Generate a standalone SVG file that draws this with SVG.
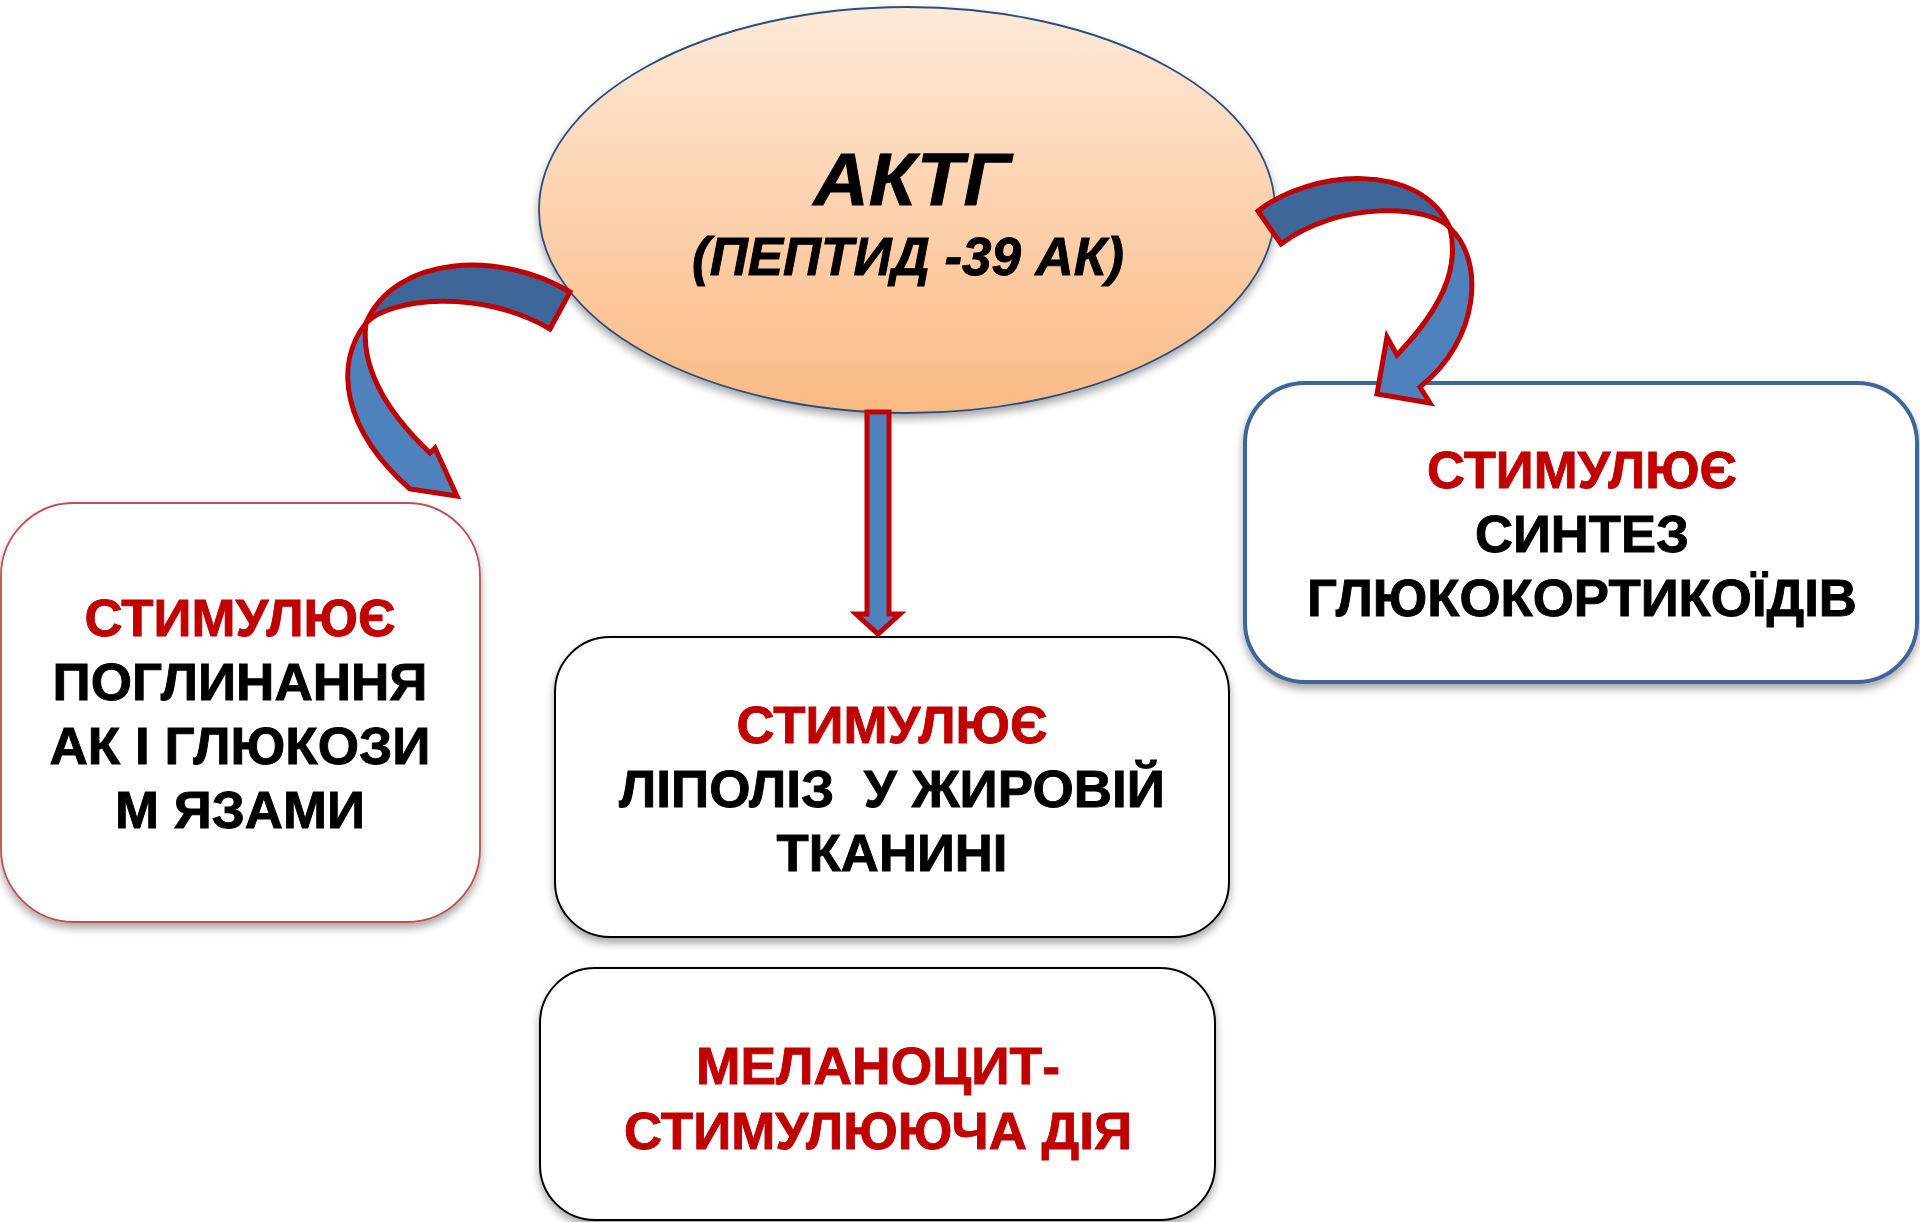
<svg xmlns="http://www.w3.org/2000/svg" width="1920" height="1222" viewBox="0 0 1920 1222">
  <defs>
    <linearGradient id="peach" x1="0" y1="0" x2="0" y2="1">
      <stop offset="0" stop-color="#fde9d8"/>
      <stop offset="1" stop-color="#fbba84"/>
    </linearGradient>
    <filter id="shadow" x="-10%" y="-10%" width="120%" height="125%">
      <feGaussianBlur in="SourceAlpha" stdDeviation="4"/>
      <feOffset dx="0" dy="5" result="b"/>
      <feFlood flood-color="#000" flood-opacity="0.35"/>
      <feComposite in2="b" operator="in"/>
      <feMerge>
        <feMergeNode/>
        <feMergeNode in="SourceGraphic"/>
      </feMerge>
    </filter>
  </defs>
  <style>
    text { font-family: "Liberation Sans", Arial, sans-serif; font-weight: bold; text-anchor: middle; stroke-width: 0.9; }
    .lbl { font-size: 52px; fill: #000; stroke: #000; }
    .red { fill: #c00000; stroke: #c00000; }
    .box { fill: #fff; filter: url(#shadow); }
    .arrow { stroke: #c00000; stroke-width: 5; stroke-linejoin: miter; }
    .front { fill: #4f81bd; }
    .back { fill: #3f6698; }
  </style>

  <rect width="1920" height="1222" fill="#fff"/>

  <!-- left box: amino acid and glucose uptake by muscles -->
  <g id="node-muscle">
    <rect class="box" x="1" y="503" width="479" height="419" rx="73" ry="73" stroke="#c0504d" stroke-width="1.8"/>
    <text class="lbl red" x="240" y="636" textLength="311" lengthAdjust="spacingAndGlyphs">СТИМУЛЮЄ</text>
    <text class="lbl" x="240" y="700" textLength="375" lengthAdjust="spacingAndGlyphs">ПОГЛИНАННЯ</text>
    <text class="lbl" x="240" y="764" textLength="381" lengthAdjust="spacingAndGlyphs">АК І ГЛЮКОЗИ</text>
    <text class="lbl" x="240" y="828" textLength="250" lengthAdjust="spacingAndGlyphs">М ЯЗАМИ</text>
  </g>

  <!-- middle box: lipolysis -->
  <g id="node-lipolysis">
    <rect class="box" x="555" y="637" width="674" height="300" rx="55" ry="55" stroke="#000" stroke-width="2"/>
    <text class="lbl red" x="892" y="743" textLength="311" lengthAdjust="spacingAndGlyphs">СТИМУЛЮЄ</text>
    <text class="lbl" x="892" y="807" textLength="546" lengthAdjust="spacingAndGlyphs" xml:space="preserve">ЛІПОЛІЗ  У ЖИРОВІЙ</text>
    <text class="lbl" x="892" y="871" textLength="231" lengthAdjust="spacingAndGlyphs">ТКАНИНІ</text>
  </g>

  <!-- bottom box: melanocyte-stimulating action -->
  <g id="node-melanocyte">
    <rect class="box" x="540" y="968" width="675" height="252" rx="55" ry="55" stroke="#000" stroke-width="2"/>
    <text class="lbl red" x="878" y="1084" font-size="55" textLength="364" lengthAdjust="spacingAndGlyphs">МЕЛАНОЦИТ-</text>
    <text class="lbl red" x="878" y="1149" font-size="55" textLength="508" lengthAdjust="spacingAndGlyphs">СТИМУЛЮЮЧА ДІЯ</text>
  </g>

  <!-- right box: glucocorticoid synthesis -->
  <g id="node-glucocorticoids">
    <rect class="box" x="1245" y="383" width="672" height="299" rx="60" ry="60" stroke="#41659a" stroke-width="4"/>
    <text class="lbl red" x="1582" y="488" textLength="310" lengthAdjust="spacingAndGlyphs">СТИМУЛЮЄ</text>
    <text class="lbl" x="1582" y="552" textLength="214" lengthAdjust="spacingAndGlyphs">СИНТЕЗ</text>
    <text class="lbl" x="1582" y="616" textLength="550" lengthAdjust="spacingAndGlyphs">ГЛЮКОКОРТИКОЇДІВ</text>
  </g>

  <!-- central hormone -->
  <g id="node-acth">
    <ellipse cx="907" cy="210" rx="368" ry="203" fill="url(#peach)" stroke="#2b4f7e" stroke-width="1.8" filter="url(#shadow)"/>
    <text x="912" y="205" font-size="74" font-style="italic" fill="#000" stroke="#000" textLength="197" lengthAdjust="spacingAndGlyphs">АКТГ</text>
    <text x="908" y="275" font-size="53" font-style="italic" fill="#000" stroke="#000" textLength="432" lengthAdjust="spacingAndGlyphs">(ПЕПТИД -39 АК)</text>
  </g>

  <!-- connectors -->
  <g id="connectors">
    <!-- left curved arrow -->
    <path class="arrow back" d="M570,292 C500,250 395,255 366,323 C390,298 480,288 550,329 Z"/>
    <path class="arrow front" d="M366,323 C333,365 343,430 410,489 L457,496 L435,448 L430,453 C390,415 360,370 366,323 Z"/>

    <!-- straight arrow down -->
    <path class="arrow front" d="M867,412 L889,412 L889,614 L900,614 L878,634 L856,614 L867,614 Z"/>

    <!-- right curved arrow -->
    <path class="arrow back" d="M1258,211 C1310,170 1420,160 1450,228 C1430,205 1340,200 1281,244 Z"/>
    <path class="arrow front" d="M1450,228 C1485,260 1480,340 1420,387 L1430,403 L1377,394 L1387,337 L1397,355 C1440,310 1460,270 1450,228 Z"/>
  </g>
</svg>
